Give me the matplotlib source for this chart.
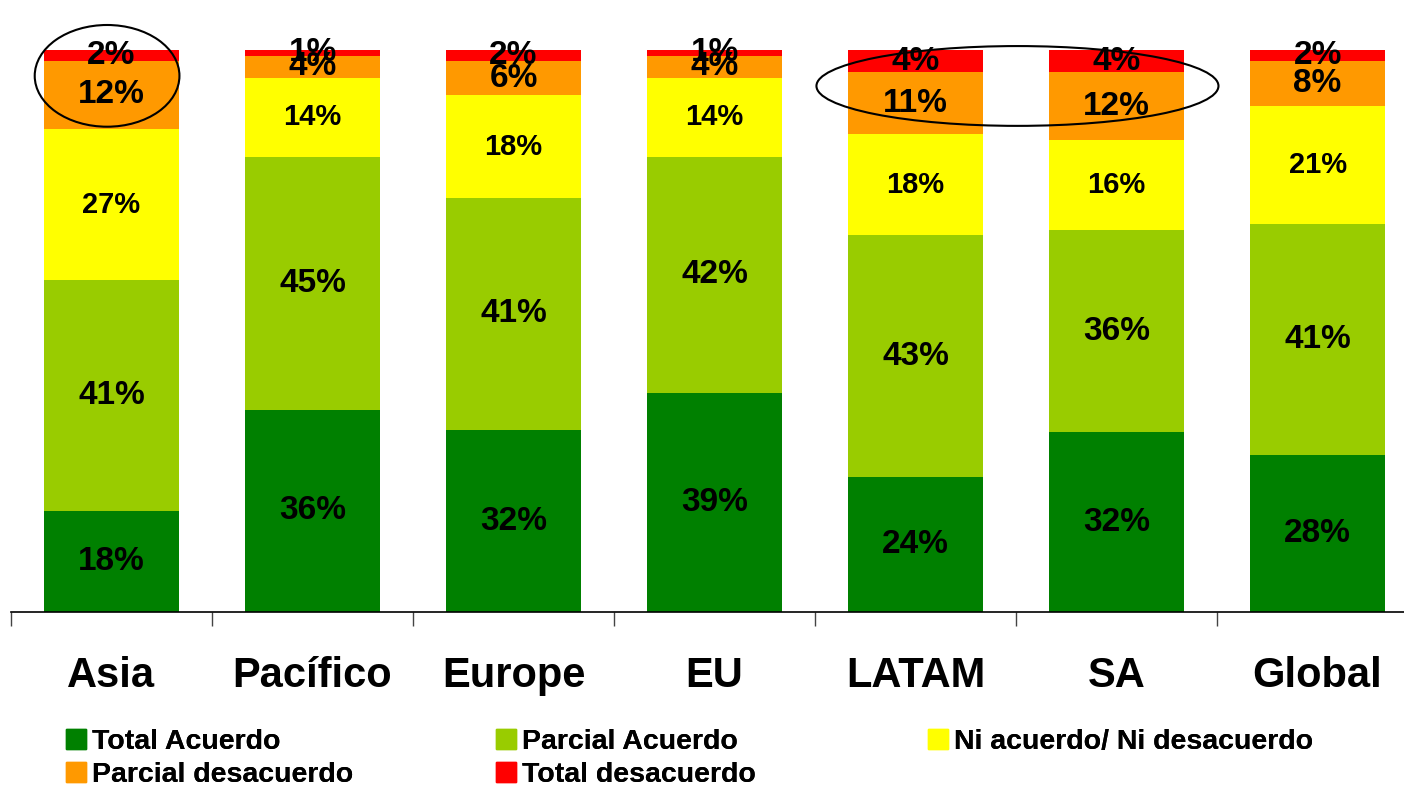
import matplotlib.pyplot as plt
from matplotlib.patches import Ellipse
from matplotlib.lines import Line2D

regions = ['Asia', 'Pacífico', 'Europe', 'EU', 'LATAM', 'SA', 'Global']
total_acuerdo = [18, 36, 32, 39, 24, 32, 28]
parcial_acuerdo = [41, 45, 41, 42, 43, 36, 41]
ni_ni = [27, 14, 18, 14, 18, 16, 21]
parcial_desacuerdo = [12, 4, 6, 4, 11, 12, 8]
total_desacuerdo = [2, 1, 2, 1, 4, 4, 2]

series = [
    ('Total Acuerdo', total_acuerdo, '#008000', 24),
    ('Parcial Acuerdo', parcial_acuerdo, '#99CC00', 24),
    ('Ni acuerdo/ Ni desacuerdo', ni_ni, '#FFFF00', 21),
    ('Parcial desacuerdo', parcial_desacuerdo, '#FF9900', 24),
    ('Total desacuerdo', total_desacuerdo, '#FF0000', 24),
]

plt.rcParams['font.family'] = ['Liberation Sans', 'DejaVu Sans']
plt.rcParams['font.weight'] = 'bold'

fig = plt.figure(figsize=(14.04, 7.9), dpi=100)
ax = fig.add_axes([11 / 1404, 1 - 612 / 790, 1 - 11 / 1404, (612 - 50) / 790])

x = list(range(len(regions)))
totals = [sum(s[1][i] for s in series) for i in x]
bottom = [0.0] * len(regions)
handles = []
for name, vals, color, fs in series:
    h = [v / t * 100 for v, t in zip(vals, totals)]
    ax.bar(x, h, width=0.67, bottom=bottom, color=color, label=name)
    for i in x:
        ax.text(i, bottom[i] + h[i] / 2, f'{vals[i]}%', ha='center', va='center',
                fontsize=fs, fontweight='bold', color='black')
    bottom = [b + hh for b, hh in zip(bottom, h)]
    handles.append(Line2D([], [], marker='s', linestyle='', markersize=14,
                          markerfacecolor=color, markeredgecolor=color, label=name))

ax.set_xlim(-0.5, 6.43)
ax.set_ylim(0, 100)
for side in ['left', 'right', 'top']:
    ax.spines[side].set_visible(False)
ax.spines['bottom'].set_linewidth(1.2)
ax.set_yticks([])
ax.set_xticks([i - 0.5 for i in range(len(regions))])
ax.set_xticklabels([])
ax.tick_params(axis='x', length=10, width=1, color='#444444', direction='out')
for i, r in enumerate(regions):
    ax.text(i, -11.3, r, ha='center', va='center', fontsize=30, fontweight='bold')

# highlight ellipses
ax.add_patch(Ellipse((-0.022, 95.4), 0.72, 18.1, fill=False, edgecolor='black',
                     linewidth=1.5, clip_on=False))
ax.add_patch(Ellipse((4.507, 93.6), 2.0, 14.2, fill=False, edgecolor='black',
                     linewidth=1.5, clip_on=False))

# legend in three columns
columns = [([0, 3], 62), ([1, 4], 492), ([2], 924)]
for idx, xpos in columns:
    leg = fig.legend([handles[i] for i in idx], [handles[i].get_label() for i in idx],
                     loc='upper left', bbox_to_anchor=(xpos / 1404, 1 - 729 / 790),
                     frameon=False, fontsize=20.5, handletextpad=0.05,
                     labelspacing=0.25, handlelength=1.0, borderaxespad=0,
                     borderpad=0)
    fig.add_artist(leg)

fig.savefig('out.png', dpi=100)
